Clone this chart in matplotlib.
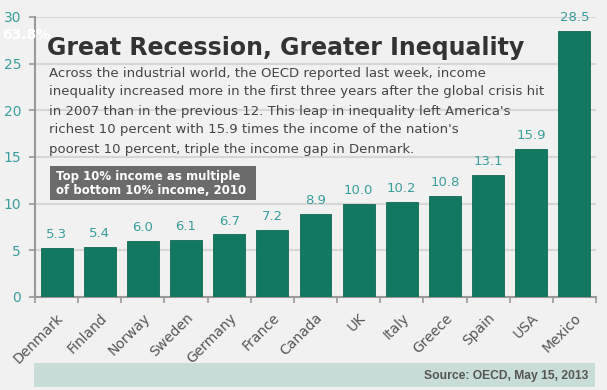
import matplotlib.pyplot as plt
from matplotlib.patches import Rectangle

countries = ["Denmark", "Finland", "Norway", "Sweden", "Germany", "France", "Canada",
             "UK", "Italy", "Greece", "Spain", "USA", "Mexico"]
ratios = [5.3, 5.4, 6.0, 6.1, 6.7, 7.2, 8.9, 10.0, 10.2, 10.8, 13.1, 15.9, 28.5]
yticks = [0, 5, 10, 15, 20, 25, 30]

title = "Great Recession, Greater Inequality"
paragraph = [
    "Across the industrial world, the OECD reported last week, income",
    "inequality increased more in the first three years after the global crisis hit",
    "in 2007 than in the previous 12. This leap in inequality left America's",
    "richest 10 percent with 15.9 times the income of the nation's",
    "poorest 10 percent, triple the income gap in Denmark.",
]
box_lines = ["Top 10% income as multiple", "of bottom 10% income, 2010"]
source = "Source: OECD, May 15, 2013"

W, H = 607, 390
BG = "#f1f1f1"
BAR = "#137861"
TEAL = "#3a9e9c"

fig = plt.figure(figsize=(W / 100, H / 100), dpi=100, facecolor=BG)


def fx(px):
    return px / W


def fy(py):
    return 1 - py / H


ax = fig.add_axes([fx(35), fy(297), fx(596) - fx(35), fy(17) - fy(297)])
ax.set_facecolor(BG)
x = range(len(countries))
ax.bar(x, ratios, width=0.74, color=BAR, edgecolor="#0e6a55", linewidth=0.6, zorder=3)
for i, v in enumerate(ratios):
    ax.annotate(f"{v:.1f}", (i, v), xytext=(0, 5), textcoords="offset points",
                ha="center", va="bottom", color=TEAL, fontsize=9.5, zorder=4)

ax.set_xlim(-0.5, len(countries) - 0.5)
ax.set_ylim(0, 30)
ax.set_yticks(yticks)
ax.set_yticklabels([str(t) for t in yticks], color=TEAL, fontsize=10)
ax.yaxis.grid(True, color="#d6d6d6", linewidth=1.5, zorder=0)
ax.tick_params(axis="y", length=4, color="#999999", width=1.2, pad=6)

ax.set_xticks([i - 0.5 for i in range(len(countries) + 1)], minor=True)
ax.set_xticks(list(x))
ax.set_xticklabels(countries, rotation=45, ha="right", va="top",
                   rotation_mode="anchor", color="#555555", fontsize=10)
ax.tick_params(axis="x", which="major", length=0, pad=10)
ax.tick_params(axis="x", which="minor", length=4, color="#999999", width=1.2)

for s in ["top", "right"]:
    ax.spines[s].set_visible(False)
for s in ["left", "bottom"]:
    ax.spines[s].set_color("#999999")
    ax.spines[s].set_linewidth(1.5)

# overlaid text
fig.text(fx(2), fy(35), "63.8%", color="white", fontsize=10, fontweight="bold",
         ha="left", va="center")
fig.text(fx(47), fy(48), title, color="#333333", fontsize=17, fontweight="bold",
         ha="left", va="center")
for k, line in enumerate(paragraph):
    fig.text(fx(49), fy(73 + 19 * k), line, color="#444444", fontsize=9.5,
             ha="left", va="center")

fig.patches.append(Rectangle((fx(50), fy(200)), fx(256) - fx(50), fy(166) - fy(200),
                             transform=fig.transFigure, facecolor="#6b6b6b",
                             edgecolor="none", zorder=5))
for k, line in enumerate(box_lines):
    fig.text(fx(56), fy(177 + 14 * k), line, color="white", fontsize=8.5,
             fontweight="bold", ha="left", va="center", zorder=6)

fig.patches.append(Rectangle((fx(34), fy(387)), fx(595) - fx(34), fy(363) - fy(387),
                             transform=fig.transFigure, facecolor="#c8ddd7",
                             edgecolor="none"))
fig.text(fx(588), fy(376), source, color="#555555", fontsize=8.7, fontweight="bold",
         family="Liberation Sans", ha="right", va="center")

plt.savefig("out.png", dpi=100, facecolor=BG)
